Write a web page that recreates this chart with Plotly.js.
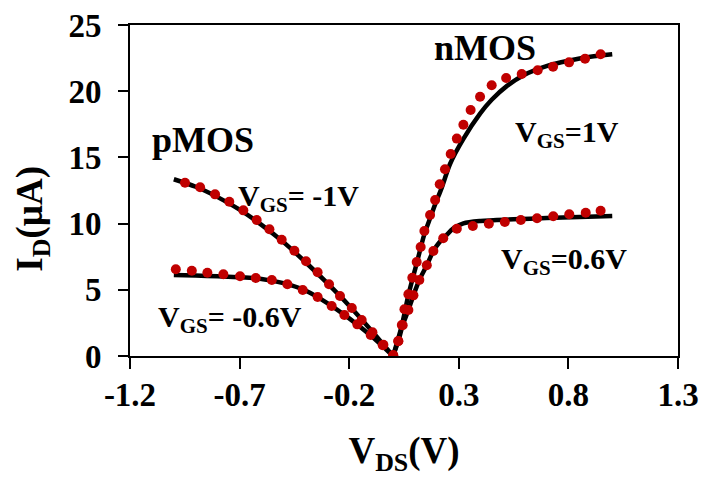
<!DOCTYPE html>
<html>
<head>
<meta charset="utf-8">
<script src="https://cdn.plot.ly/plotly-3.0.1.min.js"></script>
<style>html,body{margin:0;padding:0;background:#fff;}#chart{width:701px;height:487px;}</style>
</head>
<body>
<div id="chart"></div>
<script>
// pMOS, VGS = -1V
const pN1LineX = [-1.0, -0.9, -0.8, -0.7, -0.6, -0.5, -0.4, -0.3, -0.2, -0.1, 0.0];
const pN1LineY = [13.35, 12.78, 12.0, 11.05, 9.9, 8.6, 7.1, 5.5, 3.8, 1.95, 0.0];
const pN1DotX = [-0.949, -0.880, -0.812, -0.747, -0.683, -0.622, -0.564, -0.508, -0.450, -0.397, -0.344, -0.292, -0.242, -0.188, -0.143, -0.094, -0.044, 0.001];
const pN1DotY = [13.09, 12.74, 12.21, 11.65, 11.0, 10.27, 9.57, 8.78, 7.95, 7.15, 6.32, 5.42, 4.53, 3.63, 2.72, 1.79, 0.85, 0.05];

// pMOS, VGS = -0.6V
const pN06LineX = [-1.0, -0.9, -0.8, -0.7, -0.6, -0.5, -0.4, -0.3, -0.2, -0.1, 0.0];
const pN06LineY = [6.12, 6.08, 6.02, 5.95, 5.82, 5.5, 4.95, 4.0, 2.84, 1.52, 0.0];
const pN06DotX = [-0.991, -0.918, -0.847, -0.774, -0.698, -0.626, -0.553, -0.482, -0.412, -0.344, -0.280, -0.222, -0.163, -0.102, -0.047];
const pN06DotY = [6.55, 6.44, 6.29, 6.17, 6.02, 5.89, 5.74, 5.42, 4.98, 4.46, 3.78, 3.10, 2.39, 1.59, 0.81];

// nMOS, VGS = 1V
const n1LineX = [0.0, 0.04, 0.07, 0.108, 0.143, 0.169, 0.192, 0.222, 0.26, 0.321, 0.397, 0.45, 0.52, 0.6, 0.7, 0.8, 0.9, 1.0];
const n1LineY = [0.0, 2.3, 4.6, 7.0, 9.2, 10.4, 11.45, 12.7, 14.5, 16.4, 18.3, 19.35, 20.4, 21.25, 21.9, 22.3, 22.6, 22.79];
const n1DotX = [0.001, 0.024, 0.040, 0.052, 0.070, 0.088, 0.108, 0.126, 0.143, 0.169, 0.192, 0.213, 0.237, 0.263, 0.291, 0.321, 0.354, 0.397, 0.450, 0.516, 0.587, 0.660, 0.730, 0.803, 0.876, 0.947];
const n1DotY = [0.05, 1.11, 2.34, 3.53, 4.66, 5.91, 7.1, 8.23, 9.44, 10.65, 11.78, 12.97, 14.1, 15.26, 16.42, 17.47, 18.58, 19.58, 20.45, 21.0, 21.3, 21.58, 21.85, 22.18, 22.45, 22.79];

// nMOS, VGS = 0.6V
const n06LineX = [0.0, 0.024, 0.044, 0.07, 0.093, 0.12, 0.154, 0.184, 0.21, 0.237, 0.275, 0.321, 0.4, 0.549, 0.7, 0.85, 1.0];
const n06LineY = [0.0, 1.13, 2.32, 3.47, 4.58, 5.74, 6.85, 7.93, 8.55, 9.01, 9.64, 10.02, 10.2, 10.32, 10.42, 10.5, 10.57];
const n06DotX = [0.024, 0.044, 0.070, 0.093, 0.120, 0.154, 0.184, 0.229, 0.291, 0.364, 0.437, 0.510, 0.583, 0.657, 0.731, 0.804, 0.879, 0.947];
const n06DotY = [1.13, 2.32, 3.47, 4.58, 5.74, 6.85, 7.93, 8.89, 9.61, 9.82, 9.99, 10.12, 10.27, 10.40, 10.55, 10.70, 10.82, 10.97];

const xTicks = [-1.2, -0.7, -0.2, 0.3, 0.8, 1.3];
const yTicks = [0, 5, 10, 15, 20, 25];

const labels = [
  {text: 'pMOS', x: -0.867, y: 16.3},
  {text: 'nMOS', x: 0.42, y: 23.3},
  {text: 'V<sub>GS</sub>=1V', x: 0.794, y: 16.8},
  {text: 'V<sub>GS</sub>= -1V', x: -0.433, y: 11.9},
  {text: 'V<sub>GS</sub>= -0.6V', x: -0.744, y: 2.8},
  {text: 'V<sub>GS</sub>=0.6V', x: 0.78, y: 7.15}
];

const FONT = 'Liberation Serif, Times New Roman, serif';
const lineStyle = {color: '#000000', width: 4.5, shape: 'spline', smoothing: 0.8};
const dotStyle = {color: '#c00000', size: 10};

function lineTrace(x, y) { return {x: x, y: y, mode: 'lines', line: lineStyle, hoverinfo: 'skip', showlegend: false}; }
function dotTrace(x, y) { return {x: x, y: y, mode: 'markers', marker: dotStyle, showlegend: false}; }

const data = [
  lineTrace(pN1LineX, pN1LineY), lineTrace(pN06LineX, pN06LineY),
  lineTrace(n1LineX, n1LineY), lineTrace(n06LineX, n06LineY),
  dotTrace(pN1DotX, pN1DotY), dotTrace(pN06DotX, pN06DotY),
  dotTrace(n1DotX, n1DotY), dotTrace(n06DotX, n06DotY)
];

const annotations = labels.map((l, i) => ({
  x: l.x, y: l.y, xref: 'x', yref: 'y', text: l.text, showarrow: false,
  xanchor: 'center', yanchor: 'middle',
  font: {family: FONT, size: (i < 2 ? 36 : 30), weight: 'bold', color: '#000'}
}));
// y-axis title placed as rotated text to match the reference position
annotations.push({
  xref: 'paper', yref: 'paper', x: -0.177, y: 0.415, xanchor: 'center', yanchor: 'middle',
  text: 'I<sub>D</sub>(µA)', textangle: -90, showarrow: false,
  font: {family: FONT, size: 37, weight: 'bold', color: '#000'}
});

const layout = {
  width: 701, height: 487,
  margin: {l: 130, r: 23, t: 25, b: 131},
  paper_bgcolor: '#ffffff', plot_bgcolor: '#ffffff',
  showlegend: false,
  font: {family: FONT, color: '#000000'},
  xaxis: {
    range: [-1.2, 1.3], tickvals: xTicks, ticktext: xTicks.map(v => v.toFixed(1)),
    ticks: 'outside', ticklen: 11, tickwidth: 2, tickcolor: '#000',
    showline: true, linewidth: 2, linecolor: '#000', mirror: true,
    showgrid: false, zeroline: false, ticklabelstandoff: -3,
    tickfont: {family: FONT, size: 33, weight: 'bold', color: '#000'},
    title: {text: 'V<sub>DS</sub>(V)', font: {family: FONT, size: 37, weight: 'bold', color: '#000'}, standoff: 26}
  },
  yaxis: {
    range: [0, 25], tickvals: yTicks, ticktext: yTicks.map(v => String(v)),
    ticks: 'outside', ticklen: 10, tickwidth: 2, tickcolor: '#000',
    showline: true, linewidth: 2, linecolor: '#000', mirror: true,
    showgrid: false, zeroline: false, ticklabelstandoff: 10,
    tickfont: {family: FONT, size: 33, weight: 'bold', color: '#000'}
  },
  annotations: annotations
};

Plotly.newPlot('chart', data, layout, {staticPlot: true, displayModeBar: false});
</script>
</body>
</html>
